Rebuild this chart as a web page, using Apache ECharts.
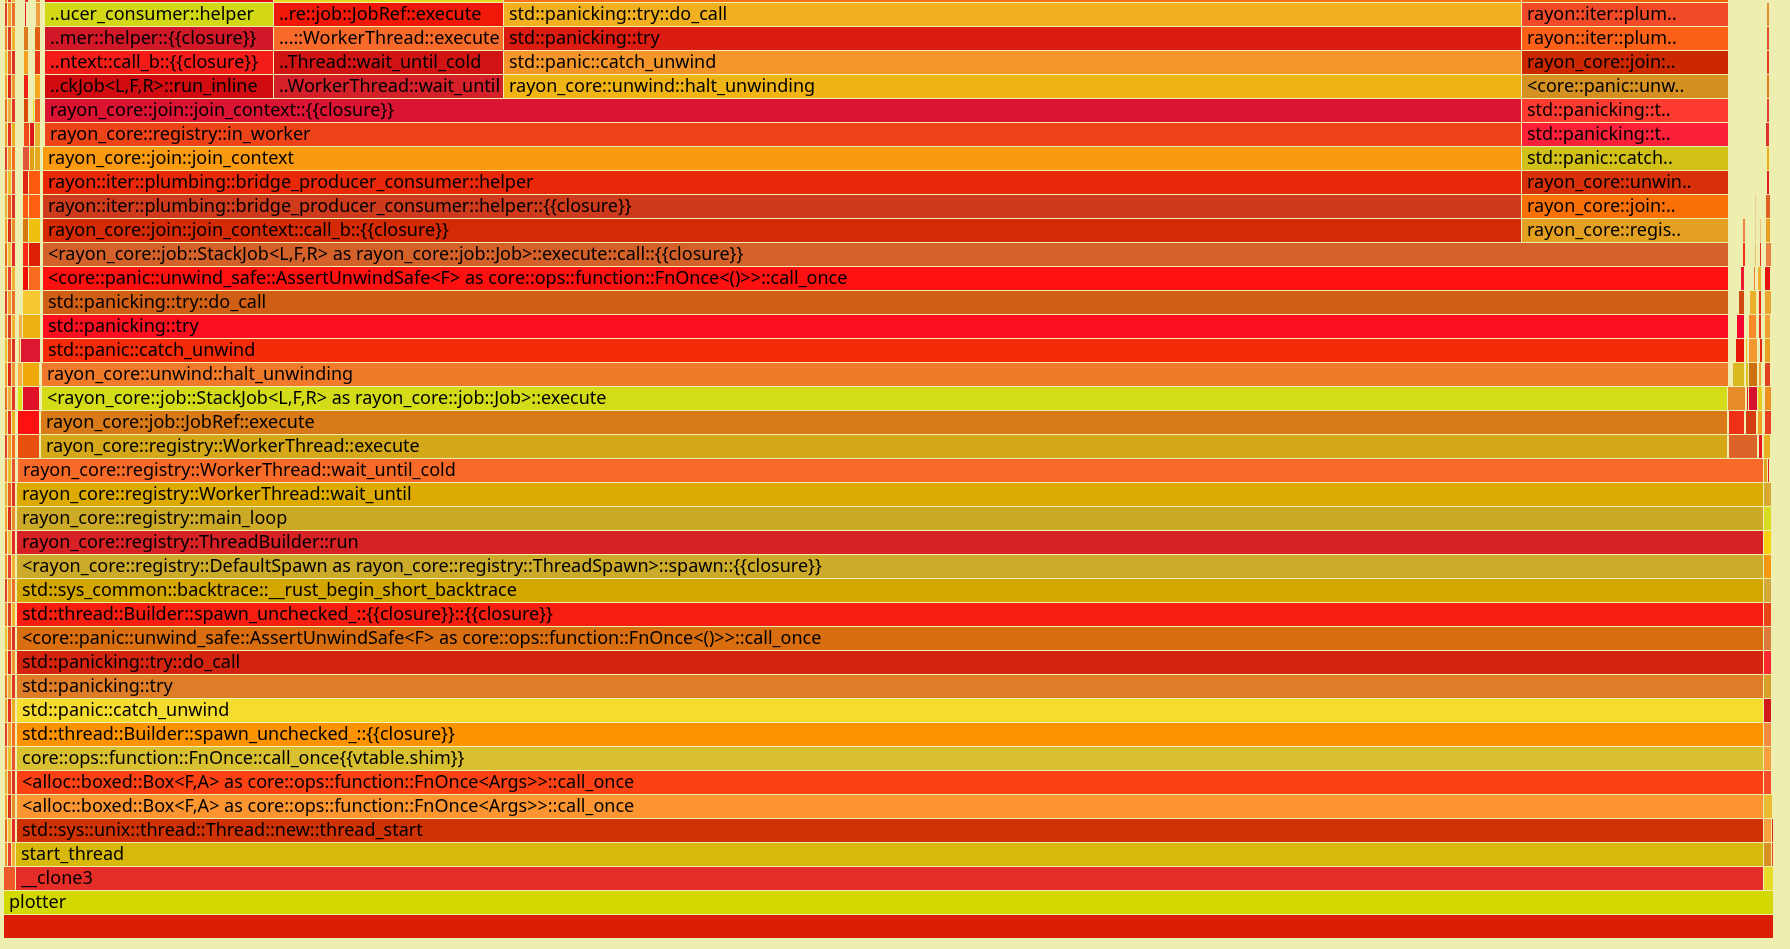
<!DOCTYPE html>
<html>
<head>
<meta charset="utf-8">
<script src="https://cdn.jsdelivr.net/npm/echarts@6/dist/echarts.min.js"></script>
<style>
html,body{margin:0;padding:0;background:#eeeeb0;}
#chart{width:1790px;height:949px;}
</style>
</head>
<body>
<div id="chart"></div>
<script>
// Flame graph frames: [depth, startSample, endSample, name]
const totalSamples = 1770;
const maxDepth = 39;
const frames = [
  // depth 0-2
  [0, 0, 1770, ""],
  [1, 0, 1770, "plotter"],
  [2, 0, 12, ""], [2, 12, 1760, "__clone3"], [2, 1760, 1770, ""],
  // depth 3-19 main stacks
  [3, 12, 1760, "start_thread"], [3, 1760, 1768, ""], [3, 1768, 1770, ""],
  [4, 13, 1760, "std::sys::unix::thread::Thread::new::thread_start"], [4, 1760, 1768, ""], [4, 1768, 1770, ""],
  [5, 13, 1760, "<alloc::boxed::Box<F,A> as core::ops::function::FnOnce<Args>>::call_once"], [5, 1760, 1769, ""],
  [6, 13, 1760, "<alloc::boxed::Box<F,A> as core::ops::function::FnOnce<Args>>::call_once"], [6, 1760, 1768, ""],
  [7, 13, 1760, "core::ops::function::FnOnce::call_once{{vtable.shim}}"], [7, 1760, 1768, ""],
  [8, 13, 1760, "std::thread::Builder::spawn_unchecked_::{{closure}}"], [8, 1760, 1768, ""],
  [9, 13, 1760, "std::panic::catch_unwind"], [9, 1760, 1768, ""],
  [10, 13, 1760, "std::panicking::try"], [10, 1760, 1768, ""],
  [11, 13, 1760, "std::panicking::try::do_call"], [11, 1760, 1768, ""],
  [12, 13, 1760, "<core::panic::unwind_safe::AssertUnwindSafe<F> as core::ops::function::FnOnce<()>>::call_once"], [12, 1760, 1768, ""],
  [13, 13, 1760, "std::thread::Builder::spawn_unchecked_::{{closure}}::{{closure}}"], [13, 1760, 1768, ""],
  [14, 13, 1760, "std::sys_common::backtrace::__rust_begin_short_backtrace"], [14, 1760, 1768, ""],
  [15, 13, 1760, "<rayon_core::registry::DefaultSpawn as rayon_core::registry::ThreadSpawn>::spawn::{{closure}}"], [15, 1760, 1768, ""],
  [16, 13, 1760, "rayon_core::registry::ThreadBuilder::run"], [16, 1760, 1768, ""],
  [17, 13, 1760, "rayon_core::registry::main_loop"], [17, 1760, 1768, ""],
  [18, 13, 1760, "rayon_core::registry::WorkerThread::wait_until"], [18, 1760, 1768, ""],
  [19, 14, 1760, "rayon_core::registry::WorkerThread::wait_until_cold"], [19, 1760, 1764, ""], [19, 1764, 1766, ""],
  // depth 20-28
  [20, 14, 36, ""], [20, 37, 1724, "rayon_core::registry::WorkerThread::execute"], [20, 1725, 1754, ""], [20, 1755, 1759, ""], [20, 1760, 1767, ""],
  [21, 14, 36, ""], [21, 37, 1724, "rayon_core::job::JobRef::execute"], [21, 1725, 1741, ""], [21, 1742, 1753, ""], [21, 1754, 1759, ""], [21, 1761, 1768, ""],
  [22, 14, 19, ""], [22, 19, 36, ""], [22, 38, 1724, "<rayon_core::job::StackJob<L,F,R> as rayon_core::job::Job>::execute"], [22, 1724, 1742, ""], [22, 1743, 1745, ""], [22, 1745, 1754, ""], [22, 1754, 1759, ""], [22, 1761, 1768, ""],
  [23, 14, 19, ""], [23, 19, 36, ""], [23, 38, 1725, "rayon_core::unwind::halt_unwinding"], [23, 1729, 1741, ""], [23, 1742, 1745, ""], [23, 1745, 1754, ""], [23, 1755, 1758, ""], [23, 1761, 1767, ""],
  [24, 15, 17, ""], [24, 17, 37, ""], [24, 39, 1725, "std::panic::catch_unwind"], [24, 1732, 1741, ""], [24, 1742, 1744, ""], [24, 1745, 1754, ""], [24, 1756, 1759, ""], [24, 1761, 1767, ""],
  [25, 15, 19, ""], [25, 19, 37, ""], [25, 39, 1725, "std::panicking::try"], [25, 1733, 1741, ""], [25, 1745, 1753, ""], [25, 1755, 1758, ""], [25, 1761, 1767, ""],
  [26, 19, 37, ""], [26, 39, 1725, "std::panicking::try::do_call"], [26, 1735, 1741, ""], [26, 1746, 1753, ""], [26, 1755, 1758, ""], [26, 1761, 1768, ""],
  [27, 19, 25, ""], [27, 25, 37, ""], [27, 39, 1725, "<core::panic::unwind_safe::AssertUnwindSafe<F> as core::ops::function::FnOnce<()>>::call_once"], [27, 1737, 1741, ""], [27, 1750, 1752, ""], [27, 1754, 1758, ""], [27, 1761, 1767, ""],
  [28, 19, 25, ""], [28, 25, 37, ""], [28, 39, 1725, "<rayon_core::job::StackJob<L,F,R> as rayon_core::job::Job>::execute::call::{{closure}}"], [28, 1739, 1742, ""], [28, 1751, 1753, ""], [28, 1756, 1758, ""], [28, 1762, 1768, ""],
  // depth 29-34
  [29, 19, 25, ""], [29, 25, 37, ""], [29, 39, 1518, "rayon_core::join::join_context::call_b::{{closure}}"], [29, 1518, 1725, "rayon_core::regis.."], [29, 1739, 1742, ""], [29, 1751, 1753, ""], [29, 1756, 1758, ""], [29, 1762, 1767, ""],
  [30, 19, 25, ""], [30, 25, 37, ""], [30, 39, 1518, "rayon::iter::plumbing::bridge_producer_consumer::helper::{{closure}}"], [30, 1518, 1725, "rayon_core::join:.."], [30, 1751, 1753, ""], [30, 1762, 1767, ""],
  [31, 19, 25, ""], [31, 25, 37, ""], [31, 39, 1518, "rayon::iter::plumbing::bridge_producer_consumer::helper"], [31, 1518, 1725, "rayon_core::unwin.."], [31, 1763, 1766, ""],
  [32, 19, 26, ""], [32, 26, 31, ""], [32, 31, 37, ""], [32, 39, 1518, "rayon_core::join::join_context"], [32, 1518, 1725, "std::panic::catch.."], [32, 1763, 1766, ""],
  [33, 20, 26, ""], [33, 26, 31, ""], [33, 31, 37, ""], [33, 41, 1518, "rayon_core::registry::in_worker"], [33, 1518, 1725, "std::panicking::t.."], [33, 1762, 1766, ""],
  [34, 20, 25, ""], [34, 29, 31, ""], [34, 31, 37, ""], [34, 41, 1518, "rayon_core::join::join_context::{{closure}}"], [34, 1518, 1725, "std::panicking::t.."], [34, 1763, 1766, ""],
  // depth 35-39
  [35, 20, 25, ""], [35, 31, 37, ""], [35, 41, 270, "..ckJob<L,F,R>::run_inline"], [35, 270, 500, "..WorkerThread::wait_until"], [35, 500, 1518, "rayon_core::unwind::halt_unwinding"], [35, 1518, 1725, "<core::panic::unw.."], [35, 1763, 1766, ""],
  [36, 20, 25, ""], [36, 31, 37, ""], [36, 41, 270, "..ntext::call_b::{{closure}}"], [36, 270, 500, "..Thread::wait_until_cold"], [36, 500, 1518, "std::panic::catch_unwind"], [36, 1518, 1725, "rayon_core::join:.."], [36, 1763, 1766, ""],
  [37, 20, 25, ""], [37, 31, 37, ""], [37, 41, 270, "..mer::helper::{{closure}}"], [37, 270, 500, "...::WorkerThread::execute"], [37, 500, 1518, "std::panicking::try"], [37, 1518, 1725, "rayon::iter::plum.."], [37, 1763, 1766, ""],
  [38, 21, 23, ""], [38, 32, 37, ""], [38, 41, 270, "..ucer_consumer::helper"], [38, 270, 500, "..re::job::JobRef::execute"], [38, 500, 1518, "std::panicking::try::do_call"], [38, 1518, 1725, "rayon::iter::plum.."], [38, 1763, 1766, ""],
  [39, 21, 25, ""], [39, 32, 37, ""], [39, 41, 270, ""], [39, 270, 500, ""], [39, 500, 1518, ""], [39, 1518, 1725, ""]
];
const frameColors = [
  '#dc1e06',
  '#d2d800',
  '#f05a2a', '#e62e28', '#e8dc2a',
  '#d9b80c', '#d89020', '#f04020',
  '#cf3305', '#f8a040', '#e02818',
  '#fd9530', '#ecbc30',
  '#fc4114', '#f64a28',
  '#d8c030', '#f8a040',
  '#fd9300', '#f48a40',
  '#f7dc30', '#d01818',
  '#de7c28', '#d8a028',
  '#d42410', '#fc2a30',
  '#d86e10', '#dc7a3a',
  '#f61e10', '#e84418',
  '#d4a600', '#d4a838',
  '#ccaa2a', '#f89810',
  '#d62224', '#f8d010',
  '#ccaa28', '#d8dc20',
  '#dcaa00', '#d8a830',
  '#f86a28', '#e0a020', '#e02020',
  '#e85010', '#d4a818', '#dc6428', '#e81818', '#e8b020',
  '#fc1010', '#d87a18', '#ee3018', '#d33d10', '#f0a020', '#e84020',
  '#d8e018', '#e01028', '#d4dc1a', '#e68c2a', '#e02020', '#d81030', '#e8cc20', '#f09020',
  '#f8b040', '#f0a808', '#f07a2a', '#dcb820', '#e0c020', '#cc7010', '#f0a030', '#e04020',
  '#f08020', '#dc1830', '#f42a08', '#e81808', '#e8c020', '#f69830', '#e82010', '#e8a020',
  '#f8b050', '#ecb010', '#fc1020', '#f80030', '#fc8a28', '#e83020', '#f0a030',
  '#f8c830', '#d05e14', '#cf4a10', '#ecb028', '#e82818', '#e8a830',
  '#f01008', '#f86a20', '#fc1010', '#f01830', '#f08030', '#f0b030', '#e81010',
  '#f82818', '#dc2008', '#d4602a', '#f03010', '#f0c070', '#e83020', '#e88040',
  '#d87808', '#f0c010', '#d42a06', '#e4a020', '#f08040', '#f0d090', '#f0c080', '#e8a020',
  '#fc5a10', '#fc6010', '#cd3a1c', '#f87006', '#f0d090', '#e06020',
  '#e02810', '#fc5a10', '#e82808', '#d83008', '#e02020',
  '#e05838', '#e0a010', '#e8a820', '#fa9a10', '#d0c018', '#e8b020',
  '#f04818', '#dc1818', '#e8b030', '#ee4218', '#fc2038', '#e03030',
  '#d84a08', '#f0e020', '#f06020', '#dc1434', '#fc3a30', '#e04030',
  '#f02010', '#f8a820', '#d00c10', '#d42028', '#f0b414', '#d49020', '#e08020',
  '#f4a020', '#e83818', '#f41c18', '#d01414', '#f4962a', '#cc2800', '#e04020',
  '#dc7a20', '#e06010', '#d01828', '#f86a2a', '#dc1c10', '#fc6018', '#e05030',
  '#e82020', '#f0a040', '#d2d816', '#f01808', '#f0b020', '#f04a28', '#e09030',
  '#e03020', '#f08030', '#dc1010', '#e8d820', '#f47010', '#f06410'
];
// Thin unlabelled frames at the far left of depths 3-39: [depth, start, end]
const leftSlivers = [
  [3,1,4],[3,4,8],[3,8,12],[4,1,4],[4,4,8],[4,8,12],[5,1,4],[5,4,8],[5,8,12],
  [6,1,4],[6,4,8],[6,8,12],[7,1,4],[7,4,8],[7,8,12],[8,1,4],[8,4,8],[8,8,12],
  [9,1,4],[9,4,8],[9,8,12],[10,1,4],[10,4,8],[10,8,12],[11,1,4],[11,4,8],[11,8,12],
  [12,1,4],[12,4,8],[12,8,12],[13,1,4],[13,4,8],[13,8,12],[14,1,4],[14,4,8],[14,8,12],
  [15,1,4],[15,4,8],[15,8,12],[16,1,4],[16,4,8],[16,8,12],[17,1,4],[17,4,8],[17,8,12],
  [18,1,4],[18,4,8],[18,8,12],[19,1,4],[19,4,8],[19,8,12],[20,1,4],[20,4,8],[20,8,12],
  [21,1,4],[21,4,8],[21,8,12],[22,1,4],[22,4,8],[22,8,12],[23,1,4],[23,4,8],[23,8,12],
  [24,1,4],[24,4,8],[24,8,12],[25,1,4],[25,4,8],[25,8,12],[26,1,4],[26,4,8],[26,8,12],
  [27,1,4],[27,4,8],[27,8,12],[28,1,4],[28,4,8],[28,8,12],[29,1,4],[29,4,8],[29,8,12],
  [30,1,4],[30,4,8],[30,8,12],[31,1,4],[31,4,8],[31,8,12],[32,1,4],[32,4,8],[32,8,12],
  [33,1,4],[33,4,8],[33,8,12],[34,1,4],[34,4,8],[34,8,12],[35,1,4],[35,4,8],[35,8,12],
  [36,1,4],[36,4,8],[36,8,12],[37,1,4],[37,4,8],[37,8,12],[38,1,4],[38,4,8],[38,8,12],
  [39,1,4],[39,4,8],[39,8,12]
];
const sliverColors = [
  '#f0902a','#e8402a','#f0b030', '#e86a20','#f0c040','#e02a20', '#f4a030','#dc3018','#e88a28',
  '#e8b030','#f06020','#e03020', '#f08030','#e8c030','#e85030', '#e04020','#f0a030','#f07020',
  '#f0a030','#e83020','#e8b020', '#e87020','#f0b040','#e03820', '#f4a030','#e02818','#f09030',
  '#e8c030','#f06020','#e03020', '#f08030','#e04020','#f0b030', '#e04020','#f0a030','#e87028',
  '#f0902a','#e8402a','#f0b030', '#e86a20','#f0c040','#e02a20', '#f4a030','#dc3018','#e88a28',
  '#e8b030','#f06020','#e03020', '#f08030','#e8c030','#e85030', '#e04020','#f0a030','#f07020',
  '#f0a030','#e83020','#e8b020', '#e87020','#f0b040','#e03820', '#f4a030','#e02818','#f09030',
  '#e8c030','#f06020','#e03020', '#f08030','#e04020','#f0b030', '#e04020','#f0a030','#e87028',
  '#f0902a','#e8402a','#f0b030', '#e86a20','#f0c040','#e02a20', '#f4a030','#dc3018','#e88a28',
  '#e8b030','#f06020','#e03020', '#f08030','#e8c030','#e85030', '#e04020','#f0a030','#f07020',
  '#f0a030','#e83020','#e8b020', '#e87020','#f0b040','#e03820', '#f4a030','#e02818','#f09030',
  '#e8c030','#f06020','#e03020', '#f08030','#e04020','#f0b030', '#e04020','#f0a030','#e87028',
  '#f0902a','#e8402a','#f0b030'
];

const data = [];
leftSlivers.forEach((s, i) => data.push({ value: [s[0], s[1], s[2], ''], itemStyle: { color: sliverColors[i] } }));
frames.forEach((f, i) => data.push({ value: [f[0], f[1], f[2], f[3]], itemStyle: { color: frameColors[i] } }));

const chart = echarts.init(document.getElementById('chart'), null, { renderer: 'canvas' });
chart.setOption({
  backgroundColor: '#eeeeb0',
  animation: false,
  grid: { left: 4, right: 16, top: 3, bottom: 10 },
  xAxis: { type: 'value', min: 0, max: totalSamples, show: false },
  yAxis: { type: 'value', min: 0, max: maxDepth, show: false },
  series: [{
    type: 'custom',
    clip: false,
    data: data,
    encode: { x: [1, 2], y: 0 },
    renderItem: function (params, api) {
      const depth = api.value(0);
      const p0 = api.coord([api.value(1), depth + 1]);
      const p1 = api.coord([api.value(2), depth]);
      const x = p0[0], y = p0[1];
      const w = Math.max(p1[0] - p0[0] - 1, 0.8);
      const h = p1[1] - p0[1] - 1;
      const name = data[params.dataIndex].value[3];
      const color = api.visual('color');
      const children = [{
        type: 'rect',
        shape: { x: x, y: y, width: w, height: h },
        style: { fill: color }
      }];
      if (name && w > 30) {
        children.push({
          type: 'text',
          style: {
            text: name,
            x: x + 5,
            y: y + h / 2 + 0.5,
            fill: '#000',
            font: '18px "Noto Sans"',
            verticalAlign: 'middle',
            align: 'left',
            width: w - 5,
            overflow: 'truncate',
            ellipsis: '..'
          }
        });
      }
      return { type: 'group', children: children };
    }
  }]
});
</script>
</body>
</html>
